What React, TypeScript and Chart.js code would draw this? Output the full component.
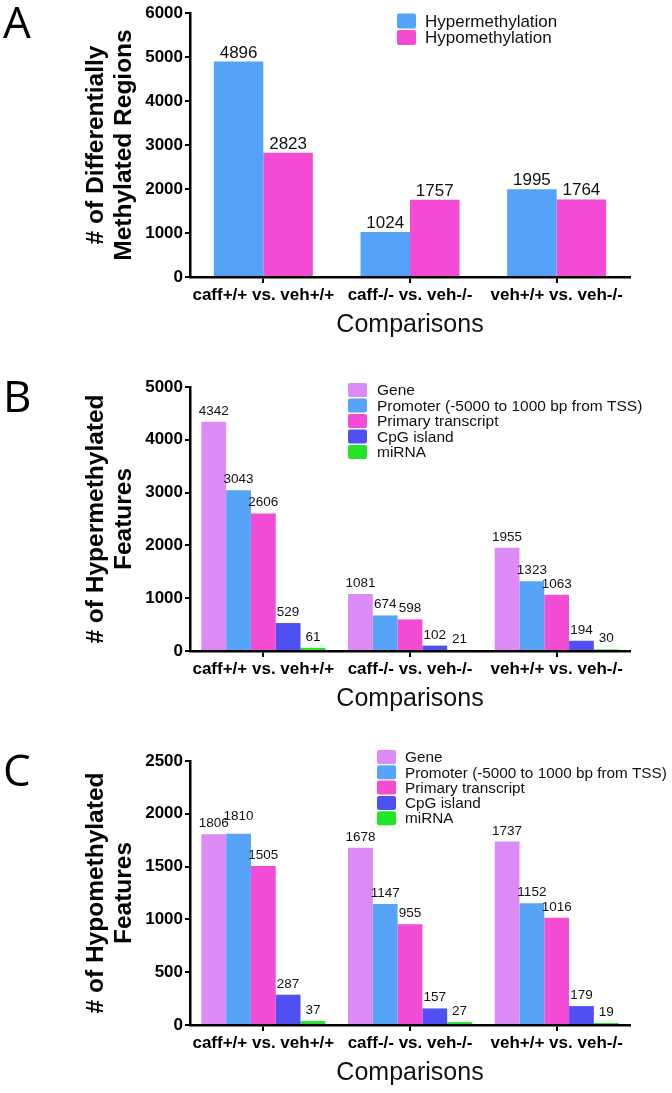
import React, { useEffect, useRef } from 'react';
import { Chart, registerables } from 'chart.js';

Chart.register(...registerables);

const FONT = "'Liberation Sans', Arial, Helvetica, sans-serif";
Chart.defaults.font.family = FONT;
Chart.defaults.color = '#000';

// ---------- data ----------
const categories = ['caff+/+ vs. veh+/+', 'caff-/- vs. veh-/-', 'veh+/+ vs. veh-/-'];

const hyperRegions = [4896, 1024, 1995];
const hypoRegions = [2823, 1757, 1764];

const hyperGene = [4342, 1081, 1955];
const hyperPromoter = [3043, 674, 1323];
const hyperPrimary = [2606, 598, 1063];
const hyperCpG = [529, 102, 194];
const hyperMiRNA = [61, 21, 30];

const hypoGene = [1806, 1678, 1737];
const hypoPromoter = [1810, 1147, 1152];
const hypoPrimary = [1505, 955, 1016];
const hypoCpG = [287, 157, 179];
const hypoMiRNA = [37, 27, 19];

const featureLabels = ['Gene', 'Promoter (-5000 to 1000 bp from TSS)', 'Primary transcript', 'CpG island', 'miRNA'];
const featureColors = ['#dc8af5', '#56a4f7', '#f24bd4', '#4f4ff2', '#22e52a'];
const regionLabels = ['Hypermethylation', 'Hypomethylation'];
const regionColors = ['#55a3f8', '#f44bd4'];

const yTitleA = ['# of Differentially', 'Methylated Regions'];
const yTitleB = ['# of Hypermethylated', 'Features'];
const yTitleC = ['# of Hypomethylated', 'Features'];
const xTitle = 'Comparisons';

// ---------- plugins ----------
const valueLabelPlugin = {
  id: 'valueLabels',
  afterDatasetsDraw(chart: any, _args: any, opts: any) {
    const ctx = chart.ctx;
    ctx.save();
    ctx.font = `${opts.size}px ${FONT}`;
    ctx.fillStyle = '#111';
    ctx.textAlign = 'center';
    ctx.textBaseline = 'alphabetic';
    const n = chart.data.labels.length;
    for (let c = 0; c < n; c++) {
      let prev: any = null;
      chart.data.datasets.forEach((ds: any, i: number) => {
        const el = chart.getDatasetMeta(i).data[c];
        const text = String(ds.data[c]);
        const w = ctx.measureText(text).width;
        const x = el.x;
        let y = el.y - opts.gap;
        if (prev && x - w / 2 < prev.x + prev.w / 2 && Math.abs(y - prev.y) < opts.size * 0.8) {
          y = prev.y - opts.raise;
        }
        ctx.fillText(text, x, y);
        prev = { x, y, w };
      });
    }
    ctx.restore();
  },
};

const boxLegendPlugin = {
  id: 'boxLegend',
  afterDraw(chart: any, _args: any, opts: any) {
    const ctx = chart.ctx;
    ctx.save();
    chart.data.datasets.forEach((ds: any, i: number) => {
      const cy = opts.y + i * opts.step;
      ctx.fillStyle = ds.backgroundColor;
      ctx.beginPath();
      if ((ctx as any).roundRect) (ctx as any).roundRect(opts.x, cy - opts.boxH / 2, opts.boxW, opts.boxH, 2);
      else ctx.rect(opts.x, cy - opts.boxH / 2, opts.boxW, opts.boxH);
      ctx.fill();
      ctx.fillStyle = '#111';
      ctx.font = `${opts.size}px ${FONT}`;
      ctx.textAlign = 'left';
      ctx.textBaseline = 'middle';
      ctx.fillText(ds.label, opts.x + opts.textDx, cy + 1);
    });
    ctx.restore();
  },
};

const letterPlugin = {
  id: 'panelLetter',
  afterDraw(chart: any, _args: any, opts: any) {
    const ctx = chart.ctx;
    ctx.save();
    ctx.font = `400 ${opts.size}px 'Open Sans', 'Noto Sans', sans-serif`;
    ctx.fillStyle = '#000';
    ctx.textAlign = 'left';
    ctx.textBaseline = 'middle';
    ctx.fillText(opts.text, opts.x, opts.y);
    ctx.restore();
  },
};

// ---------- config ----------
type PanelSpec = {
  letter: string;
  labels: string[];
  colors: string[];
  series: number[][];
  yMax: number;
  yStep: number;
  yTitle: string[];
  catPct: number;
  valueSize: number;
  valueGap: number;
  legend: { x: number; y: number; step: number; boxW: number; boxH: number; size: number; textDx: number };
};

const CANVAS_W = 672;
const CANVAS_H = 345;
const PLOT_TOP = 13;
const PLOT_BOTTOM = 277;
const AXIS_X = 190;

function makeConfig(spec: PanelSpec): any {
  return {
    type: 'bar',
    data: {
      labels: categories,
      datasets: spec.series.map((d, i) => ({
        label: spec.labels[i],
        data: d,
        backgroundColor: spec.colors[i],
        borderWidth: 0,
        categoryPercentage: spec.catPct,
        barPercentage: 1,
      })),
    },
    options: {
      responsive: false,
      animation: false,
      devicePixelRatio: 1,
      layout: { padding: { top: PLOT_TOP, right: 42, left: 0, bottom: 0 } },
      plugins: {
        legend: { display: false },
        tooltip: { enabled: false },
        valueLabels: { size: spec.valueSize, gap: spec.valueGap, raise: 7 },
        boxLegend: spec.legend,
        panelLetter: { text: spec.letter, x: 3, y: 25, size: 44 },
      },
      scales: {
        x: {
          afterFit: (s: any) => { s.height = CANVAS_H - PLOT_BOTTOM; },
          grid: { offset: false, drawOnChartArea: false, drawTicks: true, tickLength: 6, color: '#000', lineWidth: 2 },
          border: { display: true, color: '#000', width: 2.5 },
          ticks: { font: { size: 17, weight: 'bold' }, color: '#000', maxRotation: 0, minRotation: 0, autoSkip: false, padding: 2 },
          title: { display: true, text: xTitle, font: { size: 25, weight: 'normal', lineHeight: 1.2 }, color: '#111', padding: { top: 0, bottom: 5 } },
        },
        y: {
          min: 0,
          max: spec.yMax,
          afterFit: (s: any) => { s.width = AXIS_X; },
          grid: { drawOnChartArea: false, drawTicks: true, tickLength: 5, color: '#000', lineWidth: 2 },
          border: { display: true, color: '#000', width: 2.5 },
          ticks: {
            stepSize: spec.yStep,
            font: { size: 17, weight: 'bold' },
            color: '#000',
            padding: 2,
            callback: (v: any) => String(v),
          },
          title: { display: true, text: spec.yTitle, font: { size: 24.5, weight: 'bold', lineHeight: 1.12 }, color: '#000', padding: { top: 83, bottom: 0 } },
        },
      },
    },
    plugins: [valueLabelPlugin, boxLegendPlugin, letterPlugin],
  };
}

const panels: PanelSpec[] = [
  {
    letter: 'A',
    labels: regionLabels,
    colors: regionColors,
    series: [hyperRegions, hypoRegions],
    yMax: 6000,
    yStep: 1000,
    yTitle: yTitleA,
    catPct: 0.675,
    valueSize: 17,
    valueGap: 4,
    legend: { x: 397, y: 21, step: 16.5, boxW: 19, boxH: 15, size: 17, textDx: 28 },
  },
  {
    letter: 'B',
    labels: featureLabels,
    colors: featureColors,
    series: [hyperGene, hyperPromoter, hyperPrimary, hyperCpG, hyperMiRNA],
    yMax: 5000,
    yStep: 1000,
    yTitle: yTitleB,
    catPct: 0.845,
    valueSize: 13.5,
    valueGap: 7,
    legend: { x: 348, y: 16, step: 15.5, boxW: 19, boxH: 14, size: 15.5, textDx: 29 },
  },
  {
    letter: 'C',
    labels: featureLabels,
    colors: featureColors,
    series: [hypoGene, hypoPromoter, hypoPrimary, hypoCpG, hypoMiRNA],
    yMax: 2500,
    yStep: 500,
    yTitle: yTitleC,
    catPct: 0.845,
    valueSize: 13.5,
    valueGap: 7,
    legend: { x: 377, y: 9, step: 15.3, boxW: 19, boxH: 14, size: 15.3, textDx: 28 },
  },
];

function Panel({ spec, top }: { spec: PanelSpec; top: number }) {
  const ref = useRef<HTMLCanvasElement>(null);
  useEffect(() => {
    if (!ref.current) return;
    const chart = new Chart(ref.current, makeConfig(spec));
    return () => chart.destroy();
  }, [spec]);
  return (
    <canvas
      ref={ref}
      width={CANVAS_W}
      height={CANVAS_H}
      style={{ position: 'absolute', left: 0, top, width: CANVAS_W, height: CANVAS_H }}
    />
  );
}

export default function App() {
  useEffect(() => {
    document.body.style.margin = '0';
    document.body.style.overflow = 'hidden';
    document.body.style.background = '#fff';
  }, []);
  return (
    <div style={{ position: 'relative', width: 672, height: 1093, overflow: 'hidden', background: '#fff' }}>
      {panels.map((p, i) => (
        <Panel key={p.letter} spec={p} top={i * 374} />
      ))}
    </div>
  );
}
